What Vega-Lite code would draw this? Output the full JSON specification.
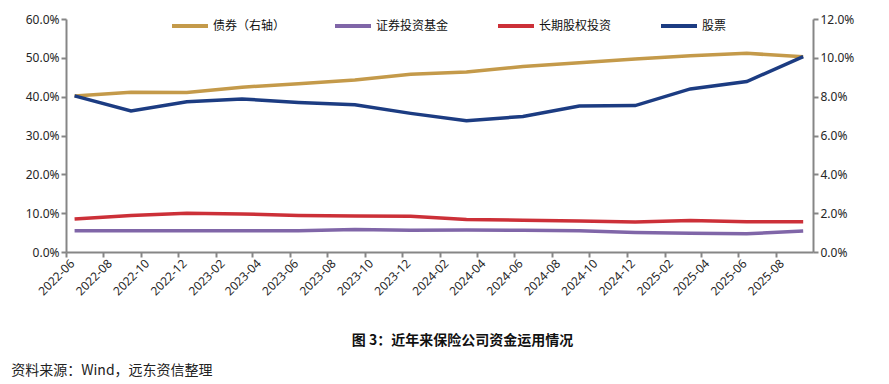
{
  "$schema": "https://vega.github.io/schema/vega-lite/v6.json",
  "width": 747,
  "height": 233,
  "autosize": "none",
  "padding": {"left": 66, "top": 19, "right": 76, "bottom": 132},
  "background": "white",
  "config": {
    "font": "Noto Sans CJK SC",
    "view": {"stroke": null},
    "axis": {
      "grid": false,
      "domainColor": "#868686",
      "domainWidth": 2,
      "tickColor": "#868686",
      "tickWidth": 2,
      "tickSize": 5,
      "labelFont": "Noto Sans",
      "labelFontSize": 12,
      "labelColor": "#262626"
    }
  },
  "data": {
    "values": [
      {"date": "2022-06-15", "series": "债券（右轴）", "value": 0.0804},
      {"date": "2022-09-15", "series": "债券（右轴）", "value": 0.0823},
      {"date": "2022-12-15", "series": "债券（右轴）", "value": 0.0822},
      {"date": "2023-03-15", "series": "债券（右轴）", "value": 0.0849},
      {"date": "2023-06-15", "series": "债券（右轴）", "value": 0.0866},
      {"date": "2023-09-15", "series": "债券（右轴）", "value": 0.0886},
      {"date": "2023-12-15", "series": "债券（右轴）", "value": 0.0915},
      {"date": "2024-03-15", "series": "债券（右轴）", "value": 0.0927},
      {"date": "2024-06-15", "series": "债券（右轴）", "value": 0.0955},
      {"date": "2024-09-15", "series": "债券（右轴）", "value": 0.0975},
      {"date": "2024-12-15", "series": "债券（右轴）", "value": 0.0994},
      {"date": "2025-03-15", "series": "债券（右轴）", "value": 0.1011},
      {"date": "2025-06-15", "series": "债券（右轴）", "value": 0.1023},
      {"date": "2025-09-15", "series": "债券（右轴）", "value": 0.1006},
      {"date": "2022-06-15", "series": "证券投资基金", "value": 0.055},
      {"date": "2022-09-15", "series": "证券投资基金", "value": 0.055},
      {"date": "2022-12-15", "series": "证券投资基金", "value": 0.055},
      {"date": "2023-03-15", "series": "证券投资基金", "value": 0.055},
      {"date": "2023-06-15", "series": "证券投资基金", "value": 0.055},
      {"date": "2023-09-15", "series": "证券投资基金", "value": 0.058},
      {"date": "2023-12-15", "series": "证券投资基金", "value": 0.056},
      {"date": "2024-03-15", "series": "证券投资基金", "value": 0.0565},
      {"date": "2024-06-15", "series": "证券投资基金", "value": 0.056},
      {"date": "2024-09-15", "series": "证券投资基金", "value": 0.055},
      {"date": "2024-12-15", "series": "证券投资基金", "value": 0.0505},
      {"date": "2025-03-15", "series": "证券投资基金", "value": 0.048},
      {"date": "2025-06-15", "series": "证券投资基金", "value": 0.047},
      {"date": "2025-09-15", "series": "证券投资基金", "value": 0.054},
      {"date": "2022-06-15", "series": "长期股权投资", "value": 0.085},
      {"date": "2022-09-15", "series": "长期股权投资", "value": 0.094},
      {"date": "2022-12-15", "series": "长期股权投资", "value": 0.100},
      {"date": "2023-03-15", "series": "长期股权投资", "value": 0.098},
      {"date": "2023-06-15", "series": "长期股权投资", "value": 0.094},
      {"date": "2023-09-15", "series": "长期股权投资", "value": 0.0925},
      {"date": "2023-12-15", "series": "长期股权投资", "value": 0.092},
      {"date": "2024-03-15", "series": "长期股权投资", "value": 0.084},
      {"date": "2024-06-15", "series": "长期股权投资", "value": 0.082},
      {"date": "2024-09-15", "series": "长期股权投资", "value": 0.080},
      {"date": "2024-12-15", "series": "长期股权投资", "value": 0.077},
      {"date": "2025-03-15", "series": "长期股权投资", "value": 0.081},
      {"date": "2025-06-15", "series": "长期股权投资", "value": 0.078},
      {"date": "2025-09-15", "series": "长期股权投资", "value": 0.078},
      {"date": "2022-06-15", "series": "股票", "value": 0.402},
      {"date": "2022-09-15", "series": "股票", "value": 0.363},
      {"date": "2022-12-15", "series": "股票", "value": 0.387},
      {"date": "2023-03-15", "series": "股票", "value": 0.394},
      {"date": "2023-06-15", "series": "股票", "value": 0.385},
      {"date": "2023-09-15", "series": "股票", "value": 0.379},
      {"date": "2023-12-15", "series": "股票", "value": 0.357},
      {"date": "2024-03-15", "series": "股票", "value": 0.338},
      {"date": "2024-06-15", "series": "股票", "value": 0.349},
      {"date": "2024-09-15", "series": "股票", "value": 0.376},
      {"date": "2024-12-15", "series": "股票", "value": 0.377},
      {"date": "2025-03-15", "series": "股票", "value": 0.420},
      {"date": "2025-06-15", "series": "股票", "value": 0.439},
      {"date": "2025-09-15", "series": "股票", "value": 0.503}
    ]
  },
  "title": {
    "text": "资料来源：Wind，远东资信整理",
    "orient": "bottom",
    "anchor": "start",
    "frame": "bounds",
    "font": "Noto Sans CJK SC",
    "fontSize": 14,
    "fontWeight": "normal",
    "color": "#222222",
    "offset": 17,
    "dx": -14
  },
  "encoding": {
    "x": {
      "field": "date",
      "type": "temporal",
      "scale": {
        "type": "utc",
        "domain": [
          {"year": 2022, "month": 6, "date": 1, "utc": true},
          {"year": 2025, "month": 10, "date": 1, "utc": true}
        ]
      },
      "axis": {
        "values": [
          {"year": 2022, "month": 6, "date": 1, "utc": true},
          {"year": 2022, "month": 8, "date": 1, "utc": true},
          {"year": 2022, "month": 10, "date": 1, "utc": true},
          {"year": 2022, "month": 12, "date": 1, "utc": true},
          {"year": 2023, "month": 2, "date": 1, "utc": true},
          {"year": 2023, "month": 4, "date": 1, "utc": true},
          {"year": 2023, "month": 6, "date": 1, "utc": true},
          {"year": 2023, "month": 8, "date": 1, "utc": true},
          {"year": 2023, "month": 10, "date": 1, "utc": true},
          {"year": 2023, "month": 12, "date": 1, "utc": true},
          {"year": 2024, "month": 2, "date": 1, "utc": true},
          {"year": 2024, "month": 4, "date": 1, "utc": true},
          {"year": 2024, "month": 6, "date": 1, "utc": true},
          {"year": 2024, "month": 8, "date": 1, "utc": true},
          {"year": 2024, "month": 10, "date": 1, "utc": true},
          {"year": 2024, "month": 12, "date": 1, "utc": true},
          {"year": 2025, "month": 2, "date": 1, "utc": true},
          {"year": 2025, "month": 4, "date": 1, "utc": true},
          {"year": 2025, "month": 6, "date": 1, "utc": true},
          {"year": 2025, "month": 8, "date": 1, "utc": true}
        ],
        "labelExpr": "utcFormat(datum.value, '%Y-%m')",
        "labelOverlap": false,
        "labelAngle": -45,
        "labelAlign": "right",
        "labelBaseline": "middle",
        "labelPadding": 4,
        "labelOffset": 6,
        "title": "图 3：近年来保险公司资金运用情况",
        "titleFont": "Noto Sans CJK SC",
        "titleFontSize": 14,
        "titleFontWeight": "bold",
        "titleColor": "#111111",
        "titleAngle": 0,
        "titleAlign": "center",
        "titleBaseline": "middle",
        "titleX": 396,
        "titleY": 88
      }
    }
  },
  "layer": [
    {
      "transform": [{"filter": "datum.series === '债券（右轴）'"}],
      "mark": {"type": "line", "strokeWidth": 3.5},
      "encoding": {
        "y": {
          "field": "value",
          "type": "quantitative",
          "scale": {"domain": [0, 0.12]},
          "axis": {
            "orient": "right",
            "values": [0, 0.02, 0.04, 0.06, 0.08, 0.1, 0.12],
            "format": ".1%",
            "title": null
          }
        },
        "color": {
          "field": "series",
          "type": "nominal",
          "scale": {
            "domain": ["债券（右轴）", "证券投资基金", "长期股权投资", "股票"],
            "range": ["#C49A4A", "#8066A8", "#CC3038", "#1C3C82"]
          },
          "legend": {
            "orient": "none",
            "legendX": 104,
            "legendY": -13,
            "direction": "horizontal",
            "gridAlign": "all",
            "title": null,
            "symbolType": "stroke",
            "symbolSize": 1296,
            "symbolStrokeWidth": 4,
            "labelFont": "Noto Sans CJK SC",
            "labelFontSize": 12,
            "labelColor": "#111111",
            "labelOffset": 3,
            "columnPadding": 41
          }
        }
      }
    },
    {
      "transform": [{"filter": "datum.series !== '债券（右轴）'"}],
      "mark": {"type": "line", "strokeWidth": 3.5},
      "encoding": {
        "y": {
          "field": "value",
          "type": "quantitative",
          "scale": {"domain": [0, 0.6]},
          "axis": {
            "orient": "left",
            "values": [0, 0.1, 0.2, 0.3, 0.4, 0.5, 0.6],
            "format": ".1%",
            "title": null
          }
        },
        "color": {
          "field": "series",
          "type": "nominal"
        }
      }
    }
  ],
  "resolve": {"scale": {"y": "independent"}}
}
